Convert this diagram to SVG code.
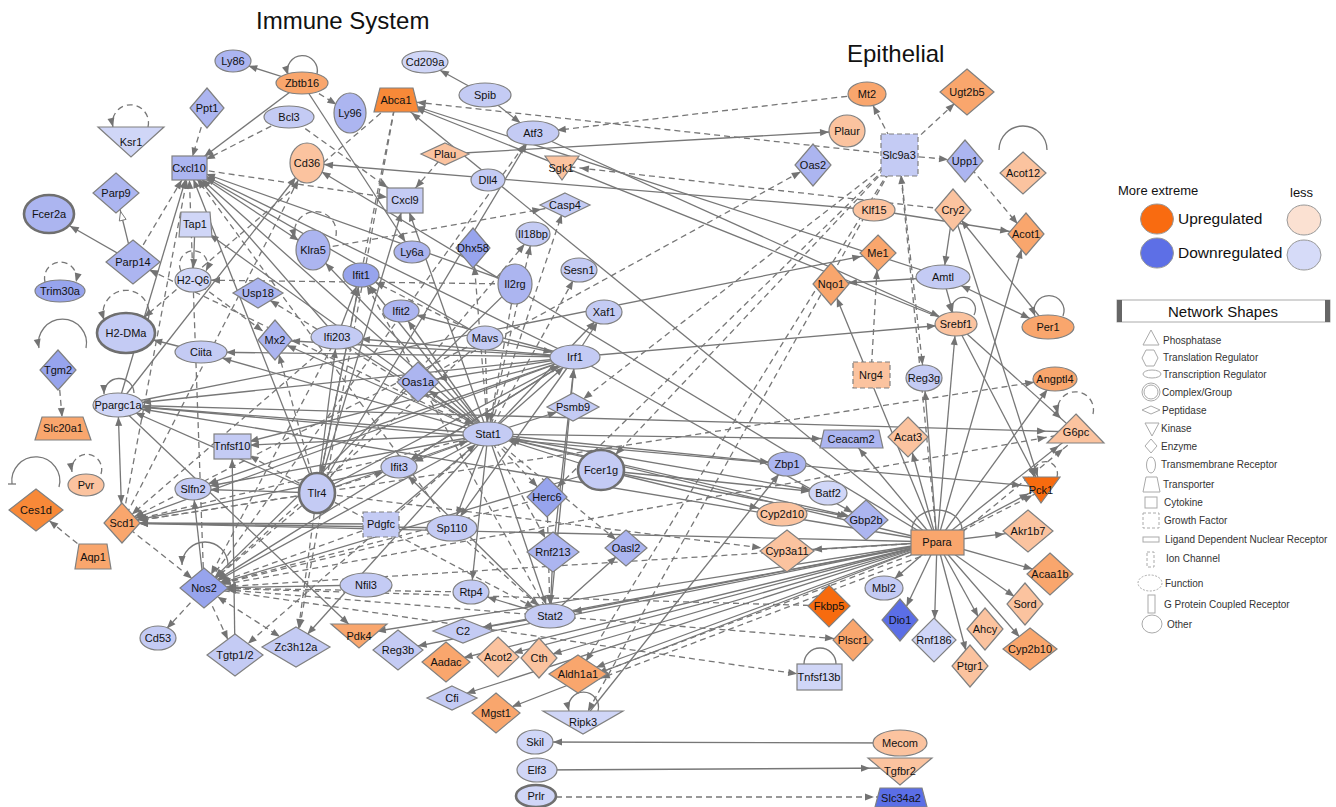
<svg xmlns="http://www.w3.org/2000/svg" width="1336" height="807" viewBox="0 0 1336 807">
<style>
.e line,.e path{stroke:#777;stroke-width:1.3;fill:none}
.d{stroke-dasharray:6 4}
.n{stroke:#808080;stroke-width:1.2}
.cx{stroke:#6f6f6f;stroke-width:2.6}
.gd{stroke-dasharray:5 3}
.t{font-family:"Liberation Sans",Arial,sans-serif;font-size:11px;fill:#111;text-anchor:middle}
.ti{font-family:"Liberation Sans",Arial,sans-serif;font-size:24px;fill:#111}
.lg{stroke:#aaa;fill:#fff;stroke-width:1}
.lt{font-family:"Liberation Sans",Arial,sans-serif;font-size:10px;fill:#333}
.B1{fill:#5b6ee6}.B2{fill:#97a4ed}.B3{fill:#acb5f0}.B4{fill:#c4cbf4}.B5{fill:#d0d6f7}
.O1{fill:#f76b0f}.O2{fill:#f88938}.O3{fill:#f9a66d}.O4{fill:#fbc39f}
</style>
<defs>
<marker id="a0" markerUnits="userSpaceOnUse" markerWidth="10" markerHeight="8" refX="9" refY="3.5" orient="auto" overflow="visible"><path d="M0,0L9,3.5L0,7z" fill="#737373"/></marker>
<marker id="a10" markerUnits="userSpaceOnUse" markerWidth="10" markerHeight="8" refX="19" refY="3.5" orient="auto" overflow="visible"><path d="M0,0L9,3.5L0,7z" fill="#737373"/></marker>
<marker id="a11" markerUnits="userSpaceOnUse" markerWidth="10" markerHeight="8" refX="20" refY="3.5" orient="auto" overflow="visible"><path d="M0,0L9,3.5L0,7z" fill="#737373"/></marker>
<marker id="a12" markerUnits="userSpaceOnUse" markerWidth="10" markerHeight="8" refX="21" refY="3.5" orient="auto" overflow="visible"><path d="M0,0L9,3.5L0,7z" fill="#737373"/></marker>
<marker id="a13" markerUnits="userSpaceOnUse" markerWidth="10" markerHeight="8" refX="22" refY="3.5" orient="auto" overflow="visible"><path d="M0,0L9,3.5L0,7z" fill="#737373"/></marker>
<marker id="a14" markerUnits="userSpaceOnUse" markerWidth="10" markerHeight="8" refX="23" refY="3.5" orient="auto" overflow="visible"><path d="M0,0L9,3.5L0,7z" fill="#737373"/></marker>
<marker id="a15" markerUnits="userSpaceOnUse" markerWidth="10" markerHeight="8" refX="24" refY="3.5" orient="auto" overflow="visible"><path d="M0,0L9,3.5L0,7z" fill="#737373"/></marker>
<marker id="a16" markerUnits="userSpaceOnUse" markerWidth="10" markerHeight="8" refX="25" refY="3.5" orient="auto" overflow="visible"><path d="M0,0L9,3.5L0,7z" fill="#737373"/></marker>
<marker id="a17" markerUnits="userSpaceOnUse" markerWidth="10" markerHeight="8" refX="26" refY="3.5" orient="auto" overflow="visible"><path d="M0,0L9,3.5L0,7z" fill="#737373"/></marker>
<marker id="a18" markerUnits="userSpaceOnUse" markerWidth="10" markerHeight="8" refX="27" refY="3.5" orient="auto" overflow="visible"><path d="M0,0L9,3.5L0,7z" fill="#737373"/></marker>
<marker id="a19" markerUnits="userSpaceOnUse" markerWidth="10" markerHeight="8" refX="28" refY="3.5" orient="auto" overflow="visible"><path d="M0,0L9,3.5L0,7z" fill="#737373"/></marker>
<marker id="a20" markerUnits="userSpaceOnUse" markerWidth="10" markerHeight="8" refX="29" refY="3.5" orient="auto" overflow="visible"><path d="M0,0L9,3.5L0,7z" fill="#737373"/></marker>
<marker id="a21" markerUnits="userSpaceOnUse" markerWidth="10" markerHeight="8" refX="30" refY="3.5" orient="auto" overflow="visible"><path d="M0,0L9,3.5L0,7z" fill="#737373"/></marker>
<marker id="a22" markerUnits="userSpaceOnUse" markerWidth="10" markerHeight="8" refX="31" refY="3.5" orient="auto" overflow="visible"><path d="M0,0L9,3.5L0,7z" fill="#737373"/></marker>
<marker id="a23" markerUnits="userSpaceOnUse" markerWidth="10" markerHeight="8" refX="32" refY="3.5" orient="auto" overflow="visible"><path d="M0,0L9,3.5L0,7z" fill="#737373"/></marker>
<marker id="a24" markerUnits="userSpaceOnUse" markerWidth="10" markerHeight="8" refX="33" refY="3.5" orient="auto" overflow="visible"><path d="M0,0L9,3.5L0,7z" fill="#737373"/></marker>
<marker id="a25" markerUnits="userSpaceOnUse" markerWidth="10" markerHeight="8" refX="34" refY="3.5" orient="auto" overflow="visible"><path d="M0,0L9,3.5L0,7z" fill="#737373"/></marker>
<marker id="a26" markerUnits="userSpaceOnUse" markerWidth="10" markerHeight="8" refX="35" refY="3.5" orient="auto" overflow="visible"><path d="M0,0L9,3.5L0,7z" fill="#737373"/></marker>
<marker id="a27" markerUnits="userSpaceOnUse" markerWidth="10" markerHeight="8" refX="36" refY="3.5" orient="auto" overflow="visible"><path d="M0,0L9,3.5L0,7z" fill="#737373"/></marker>
<marker id="a28" markerUnits="userSpaceOnUse" markerWidth="10" markerHeight="8" refX="37" refY="3.5" orient="auto" overflow="visible"><path d="M0,0L9,3.5L0,7z" fill="#737373"/></marker>
<marker id="a30" markerUnits="userSpaceOnUse" markerWidth="10" markerHeight="8" refX="39" refY="3.5" orient="auto" overflow="visible"><path d="M0,0L9,3.5L0,7z" fill="#737373"/></marker>
<marker id="s12" markerUnits="userSpaceOnUse" markerWidth="10" markerHeight="8" refX="21" refY="3.5" orient="auto-start-reverse" overflow="visible"><path d="M0,0L9,3.5L0,7z" fill="#737373"/></marker>
<marker id="s16" markerUnits="userSpaceOnUse" markerWidth="10" markerHeight="8" refX="25" refY="3.5" orient="auto-start-reverse" overflow="visible"><path d="M0,0L9,3.5L0,7z" fill="#737373"/></marker>
<marker id="s20" markerUnits="userSpaceOnUse" markerWidth="10" markerHeight="8" refX="29" refY="3.5" orient="auto-start-reverse" overflow="visible"><path d="M0,0L9,3.5L0,7z" fill="#737373"/></marker>
<marker id="h19" markerUnits="userSpaceOnUse" markerWidth="10" markerHeight="8" refX="28" refY="3.5" orient="auto" overflow="visible"><path d="M0,0L9,3.5L0,7z" fill="#fff" stroke="#777" stroke-width="0.9"/></marker>
</defs>
<rect width="1336" height="807" fill="#fff"/>
<text x="256" y="29" class="ti">Immune System</text>
<text x="847" y="62" class="ti">Epithelial</text>
<g id="connectors" class="e">
<line x1="302" y1="83" x2="233" y2="61" marker-end="url(#a16)"/>
<line x1="302" y1="83" x2="350" y2="113" class="d" marker-end="url(#a16)"/>
<line x1="302" y1="83" x2="189" y2="168" marker-end="url(#a19)"/>
<line x1="302" y1="83" x2="412" y2="252" marker-end="url(#a12)"/>
<line x1="485" y1="95" x2="425" y2="62" marker-end="url(#a17)"/>
<line x1="485" y1="95" x2="533" y2="133" marker-end="url(#a16)"/>
<line x1="867" y1="94" x2="533" y2="133" class="d" marker-end="url(#a24)"/>
<line x1="899" y1="155" x2="867" y2="94" class="d" marker-end="url(#a13)"/>
<line x1="899" y1="155" x2="967" y2="92" class="d" marker-end="url(#a17)"/>
<line x1="899" y1="155" x2="965" y2="161" class="d" marker-end="url(#a17)"/>
<line x1="965" y1="161" x2="1026" y2="234" class="d" marker-end="url(#a13)"/>
<line x1="445" y1="154" x2="847" y2="131" marker-end="url(#a18)"/>
<line x1="953" y1="210" x2="562" y2="166" class="d" marker-end="url(#a18)"/>
<line x1="874" y1="210" x2="307" y2="163" marker-end="url(#a17)"/>
<line x1="874" y1="210" x2="1026" y2="234" marker-end="url(#a17)"/>
<line x1="953" y1="210" x2="943" y2="277" marker-end="url(#a12)"/>
<line x1="953" y1="210" x2="1041" y2="487" marker-end="url(#a11)"/>
<line x1="1048" y1="327" x2="953" y2="210" marker-end="url(#a13)"/>
<line x1="943" y1="277" x2="1048" y2="327" marker-start="url(#s20)" marker-end="url(#a20)"/>
<line x1="937" y1="542" x2="1026" y2="234" marker-end="url(#a16)"/>
<line x1="943" y1="277" x2="956" y2="324" marker-end="url(#a12)"/>
<line x1="899" y1="155" x2="924" y2="378" class="d" marker-end="url(#a13)"/>
<line x1="871" y1="375" x2="878" y2="253" class="d" marker-end="url(#a17)"/>
<line x1="943" y1="277" x2="831" y2="284" marker-end="url(#a17)"/>
<line x1="118" y1="405" x2="878" y2="253" marker-end="url(#a17)"/>
<line x1="118" y1="405" x2="1076" y2="432" marker-end="url(#a30)"/>
<line x1="118" y1="405" x2="1041" y2="487" marker-end="url(#a20)"/>
<line x1="204" y1="588" x2="1076" y2="432" class="d" marker-end="url(#a30)"/>
<line x1="122" y1="523" x2="1055" y2="379" class="d" marker-end="url(#a21)"/>
<line x1="533" y1="133" x2="956" y2="324" marker-end="url(#a18)"/>
<line x1="956" y1="324" x2="396" y2="100" marker-end="url(#a21)"/>
<line x1="943" y1="277" x2="396" y2="100" marker-end="url(#a21)"/>
<line x1="207" y1="108" x2="189" y2="168" class="d" marker-end="url(#a12)"/>
<line x1="289" y1="117" x2="189" y2="168" class="d" marker-end="url(#a19)"/>
<line x1="289" y1="117" x2="405" y2="200" class="d" marker-end="url(#a21)"/>
<line x1="189" y1="168" x2="405" y2="200" class="d" marker-end="url(#a18)"/>
<line x1="133" y1="262" x2="116" y2="193" marker-end="url(#h19)"/>
<line x1="133" y1="262" x2="49" y2="214" marker-end="url(#a24)"/>
<line x1="133" y1="262" x2="189" y2="168" class="d" marker-end="url(#a14)"/>
<line x1="195" y1="224" x2="193" y2="280" marker-end="url(#a12)"/>
<line x1="201" y1="352" x2="126" y2="333" marker-end="url(#a28)"/>
<line x1="515" y1="284" x2="193" y2="280" class="d" marker-end="url(#a18)"/>
<line x1="118" y1="405" x2="189" y2="168" marker-end="url(#a12)"/>
<line x1="58" y1="370" x2="63" y2="428" class="d" marker-end="url(#a11)"/>
<line x1="118" y1="405" x2="122" y2="523" marker-start="url(#s12)" marker-end="url(#a19)"/>
<line x1="488" y1="434" x2="118" y2="405" marker-end="url(#a24)"/>
<line x1="937" y1="542" x2="118" y2="405" marker-end="url(#a24)"/>
<line x1="575" y1="357" x2="118" y2="405" marker-end="url(#a24)"/>
<line x1="317" y1="493" x2="118" y2="405" marker-end="url(#a19)"/>
<line x1="488" y1="434" x2="189" y2="168" marker-end="url(#a17)"/>
<line x1="488" y1="434" x2="405" y2="200" marker-end="url(#a13)"/>
<line x1="488" y1="434" x2="361" y2="275" marker-end="url(#a13)"/>
<line x1="488" y1="434" x2="401" y2="311" marker-end="url(#a12)"/>
<line x1="488" y1="434" x2="399" y2="467" marker-end="url(#a16)"/>
<line x1="488" y1="434" x2="575" y2="357" marker-end="url(#a15)"/>
<line x1="488" y1="434" x2="573" y2="407" marker-end="url(#a17)"/>
<line x1="488" y1="434" x2="418" y2="382" marker-end="url(#a14)"/>
<line x1="488" y1="434" x2="275" y2="340" marker-end="url(#a13)"/>
<line x1="488" y1="434" x2="201" y2="352" marker-end="url(#a22)"/>
<line x1="488" y1="434" x2="232" y2="446" marker-end="url(#a18)"/>
<line x1="488" y1="434" x2="193" y2="489" marker-end="url(#a17)"/>
<line x1="488" y1="434" x2="204" y2="588" marker-end="url(#a16)"/>
<line x1="488" y1="434" x2="787" y2="464" marker-end="url(#a18)"/>
<line x1="488" y1="434" x2="828" y2="493" marker-end="url(#a18)"/>
<line x1="488" y1="434" x2="866" y2="520" marker-end="url(#a17)"/>
<line x1="488" y1="434" x2="851" y2="439" marker-end="url(#a30)"/>
<line x1="488" y1="434" x2="547" y2="497" class="d" marker-end="url(#a14)"/>
<line x1="488" y1="434" x2="553" y2="552" class="d" marker-end="url(#a16)"/>
<line x1="488" y1="434" x2="626" y2="548" class="d" marker-end="url(#a13)"/>
<line x1="488" y1="434" x2="452" y2="528" marker-end="url(#a13)"/>
<line x1="488" y1="434" x2="471" y2="592" marker-end="url(#a12)"/>
<line x1="488" y1="434" x2="550" y2="616" marker-end="url(#a12)"/>
<line x1="488" y1="434" x2="604" y2="312" marker-end="url(#a13)"/>
<line x1="488" y1="434" x2="195" y2="224" marker-end="url(#a18)"/>
<line x1="488" y1="434" x2="258" y2="293" class="d" marker-end="url(#a14)"/>
<line x1="488" y1="434" x2="473" y2="248" class="d" marker-end="url(#a18)"/>
<line x1="488" y1="434" x2="533" y2="234" class="d" marker-end="url(#a12)"/>
<line x1="488" y1="434" x2="565" y2="205" class="d" marker-end="url(#a10)"/>
<line x1="488" y1="434" x2="579" y2="270" class="d" marker-end="url(#a12)"/>
<line x1="488" y1="434" x2="133" y2="262" class="d" marker-end="url(#a18)"/>
<line x1="488" y1="434" x2="313" y2="250" marker-end="url(#a18)"/>
<line x1="488" y1="434" x2="235" y2="655" class="d" marker-end="url(#a17)"/>
<line x1="488" y1="434" x2="296" y2="647" marker-end="url(#a17)"/>
<line x1="488" y1="434" x2="122" y2="523" class="d" marker-end="url(#a15)"/>
<line x1="396" y1="100" x2="126" y2="333" class="d" marker-end="url(#a24)"/>
<line x1="515" y1="284" x2="488" y2="434" class="d" marker-end="url(#a12)"/>
<line x1="485" y1="338" x2="488" y2="434" class="d" marker-end="url(#a12)"/>
<line x1="317" y1="493" x2="488" y2="434" marker-end="url(#a21)"/>
<line x1="601" y1="470" x2="488" y2="434" marker-end="url(#a21)"/>
<line x1="337" y1="337" x2="488" y2="434" marker-end="url(#a17)"/>
<line x1="937" y1="542" x2="488" y2="434" marker-end="url(#a23)"/>
<line x1="381" y1="524" x2="488" y2="434" marker-end="url(#a16)"/>
<line x1="550" y1="616" x2="471" y2="592" marker-end="url(#a17)"/>
<line x1="550" y1="616" x2="463" y2="631" marker-end="url(#a20)"/>
<line x1="550" y1="616" x2="853" y2="640" class="d" marker-end="url(#a19)"/>
<line x1="550" y1="616" x2="626" y2="548" marker-end="url(#a13)"/>
<line x1="550" y1="616" x2="575" y2="357" marker-end="url(#a12)"/>
<line x1="550" y1="616" x2="204" y2="588" class="d" marker-end="url(#a23)"/>
<line x1="452" y1="528" x2="550" y2="616" class="d" marker-end="url(#a15)"/>
<line x1="547" y1="497" x2="550" y2="616" class="d" marker-end="url(#a12)"/>
<line x1="553" y1="552" x2="550" y2="616" marker-end="url(#a12)"/>
<line x1="317" y1="493" x2="550" y2="616" class="d" marker-end="url(#a18)"/>
<line x1="550" y1="616" x2="399" y2="467" marker-end="url(#a13)"/>
<line x1="550" y1="616" x2="361" y2="275" class="d" marker-end="url(#a12)"/>
<line x1="829" y1="606" x2="204" y2="588" class="d" marker-end="url(#a23)"/>
<line x1="204" y1="588" x2="819" y2="677" class="d" marker-end="url(#a22)"/>
<line x1="937" y1="542" x2="1028" y2="531" marker-end="url(#a24)"/>
<line x1="937" y1="542" x2="1050" y2="574" marker-end="url(#a18)"/>
<line x1="937" y1="542" x2="1025" y2="604" marker-end="url(#a13)"/>
<line x1="937" y1="542" x2="1030" y2="649" marker-end="url(#a16)"/>
<line x1="937" y1="542" x2="985" y2="629" marker-end="url(#a14)"/>
<line x1="937" y1="542" x2="970" y2="666" marker-end="url(#a16)"/>
<line x1="937" y1="542" x2="934" y2="640" marker-end="url(#a21)"/>
<line x1="937" y1="542" x2="900" y2="620" marker-end="url(#a15)"/>
<line x1="937" y1="542" x2="884" y2="588" marker-end="url(#a14)"/>
<line x1="937" y1="542" x2="1041" y2="487" marker-end="url(#a14)"/>
<line x1="952" y1="536" x2="1045" y2="489" class="d" marker-end="url(#a14)"/>
<line x1="937" y1="542" x2="1076" y2="432" marker-end="url(#a22)"/>
<line x1="955" y1="538" x2="1080" y2="435" class="d" marker-end="url(#a22)"/>
<line x1="937" y1="542" x2="1055" y2="379" marker-end="url(#a13)"/>
<line x1="937" y1="542" x2="956" y2="324" marker-end="url(#a12)"/>
<line x1="937" y1="542" x2="924" y2="378" marker-end="url(#a13)"/>
<line x1="937" y1="542" x2="908" y2="437" marker-end="url(#a16)"/>
<line x1="937" y1="542" x2="787" y2="551" marker-end="url(#a26)"/>
<line x1="937" y1="542" x2="578" y2="674" marker-end="url(#a19)"/>
<line x1="930" y1="548" x2="580" y2="680" class="d" marker-end="url(#a19)"/>
<line x1="930" y1="553" x2="583" y2="685" class="d" marker-end="url(#a19)"/>
<line x1="937" y1="542" x2="539" y2="658" marker-end="url(#a14)"/>
<line x1="937" y1="542" x2="498" y2="657" marker-end="url(#a16)"/>
<line x1="937" y1="542" x2="446" y2="662" marker-end="url(#a18)"/>
<line x1="937" y1="542" x2="463" y2="631" marker-end="url(#a20)"/>
<line x1="937" y1="542" x2="452" y2="698" marker-end="url(#a15)"/>
<line x1="937" y1="542" x2="496" y2="713" marker-end="url(#a17)"/>
<line x1="937" y1="542" x2="398" y2="650" marker-end="url(#a20)"/>
<line x1="937" y1="542" x2="359" y2="634" marker-end="url(#a18)"/>
<line x1="937" y1="542" x2="204" y2="588" class="d" marker-end="url(#a23)"/>
<line x1="937" y1="542" x2="122" y2="523" marker-end="url(#a17)"/>
<line x1="937" y1="542" x2="396" y2="100" marker-end="url(#a20)"/>
<line x1="937" y1="542" x2="307" y2="163" marker-end="url(#a17)"/>
<line x1="937" y1="542" x2="899" y2="155" class="d" marker-end="url(#a20)"/>
<line x1="937" y1="542" x2="550" y2="616" marker-end="url(#a23)"/>
<line x1="937" y1="542" x2="831" y2="284" marker-end="url(#a15)"/>
<line x1="937" y1="542" x2="851" y2="439" marker-end="url(#a12)"/>
<line x1="396" y1="100" x2="317" y2="493" class="d" marker-end="url(#a19)"/>
<line x1="396" y1="100" x2="296" y2="647" class="d" marker-end="url(#a19)"/>
<line x1="317" y1="493" x2="189" y2="168" marker-end="url(#a12)"/>
<line x1="317" y1="493" x2="204" y2="588" class="d" marker-end="url(#a15)"/>
<line x1="317" y1="493" x2="122" y2="523" class="d" marker-end="url(#a17)"/>
<line x1="317" y1="493" x2="296" y2="647" class="d" marker-end="url(#a19)"/>
<line x1="317" y1="493" x2="399" y2="467" class="d" marker-end="url(#a16)"/>
<line x1="317" y1="493" x2="575" y2="357" marker-end="url(#a18)"/>
<line x1="317" y1="493" x2="361" y2="275" marker-end="url(#a12)"/>
<line x1="317" y1="493" x2="337" y2="337" marker-end="url(#a12)"/>
<line x1="317" y1="493" x2="193" y2="489" marker-end="url(#a17)"/>
<line x1="317" y1="493" x2="405" y2="200" marker-end="url(#a13)"/>
<line x1="317" y1="493" x2="232" y2="446" class="d" marker-end="url(#a20)"/>
<line x1="317" y1="493" x2="275" y2="340" class="d" marker-end="url(#a15)"/>
<line x1="317" y1="493" x2="533" y2="234" class="d" marker-end="url(#a13)"/>
<line x1="317" y1="493" x2="533" y2="133" marker-end="url(#a12)"/>
<line x1="317" y1="493" x2="787" y2="551" class="d" marker-end="url(#a26)"/>
<line x1="575" y1="357" x2="189" y2="168" marker-end="url(#a19)"/>
<line x1="337" y1="337" x2="189" y2="168" marker-end="url(#a15)"/>
<line x1="485" y1="338" x2="189" y2="168" marker-end="url(#a19)"/>
<line x1="204" y1="588" x2="189" y2="168" class="d" marker-end="url(#a12)"/>
<line x1="189" y1="168" x2="313" y2="250" marker-end="url(#a17)"/>
<line x1="515" y1="284" x2="189" y2="168" marker-end="url(#a18)"/>
<line x1="122" y1="523" x2="189" y2="168" class="d" marker-end="url(#a12)"/>
<line x1="452" y1="528" x2="189" y2="168" class="d" marker-end="url(#a14)"/>
<line x1="204" y1="588" x2="158" y2="638" class="d" marker-end="url(#a13)"/>
<line x1="204" y1="588" x2="235" y2="655" class="d" marker-end="url(#a17)"/>
<line x1="204" y1="588" x2="296" y2="647" class="d" marker-start="url(#s16)" marker-end="url(#a19)"/>
<line x1="366" y1="585" x2="204" y2="588" marker-end="url(#a23)"/>
<line x1="337" y1="337" x2="204" y2="588" class="d" marker-end="url(#a15)"/>
<line x1="575" y1="357" x2="204" y2="588" marker-end="url(#a16)"/>
<line x1="452" y1="528" x2="204" y2="588" class="d" marker-end="url(#a18)"/>
<line x1="547" y1="497" x2="204" y2="588" class="d" marker-end="url(#a18)"/>
<line x1="381" y1="524" x2="204" y2="588" class="d" marker-end="url(#a17)"/>
<line x1="471" y1="592" x2="204" y2="588" class="d" marker-end="url(#a23)"/>
<line x1="515" y1="284" x2="204" y2="588" marker-end="url(#a15)"/>
<line x1="485" y1="338" x2="204" y2="588" class="d" marker-end="url(#a15)"/>
<line x1="601" y1="470" x2="204" y2="588" marker-end="url(#a18)"/>
<line x1="93" y1="556" x2="36" y2="510" class="d" marker-end="url(#a17)"/>
<line x1="122" y1="523" x2="204" y2="588" class="d" marker-end="url(#a15)"/>
<line x1="575" y1="357" x2="122" y2="523" marker-end="url(#a14)"/>
<line x1="452" y1="528" x2="122" y2="523" marker-end="url(#a17)"/>
<line x1="381" y1="524" x2="122" y2="523" marker-end="url(#a17)"/>
<line x1="399" y1="467" x2="122" y2="523" marker-end="url(#a16)"/>
<line x1="337" y1="337" x2="122" y2="523" class="d" marker-end="url(#a13)"/>
<line x1="485" y1="338" x2="122" y2="523" class="d" marker-end="url(#a14)"/>
<line x1="575" y1="357" x2="232" y2="446" marker-end="url(#a18)"/>
<line x1="575" y1="357" x2="193" y2="489" marker-end="url(#a16)"/>
<line x1="553" y1="552" x2="575" y2="357" marker-end="url(#a12)"/>
<line x1="575" y1="357" x2="604" y2="312" marker-end="url(#a12)"/>
<line x1="575" y1="357" x2="418" y2="382" marker-end="url(#a20)"/>
<line x1="575" y1="357" x2="337" y2="337" marker-end="url(#a24)"/>
<line x1="575" y1="357" x2="201" y2="352" marker-end="url(#a25)"/>
<line x1="575" y1="357" x2="275" y2="340" marker-end="url(#a16)"/>
<line x1="575" y1="357" x2="401" y2="311" marker-end="url(#a16)"/>
<line x1="575" y1="357" x2="399" y2="467" marker-end="url(#a13)"/>
<line x1="575" y1="357" x2="866" y2="520" marker-end="url(#a15)"/>
<line x1="575" y1="357" x2="452" y2="528" marker-end="url(#a14)"/>
<line x1="575" y1="357" x2="956" y2="324" marker-end="url(#a20)"/>
<line x1="313" y1="250" x2="565" y2="205" class="d" marker-end="url(#a24)"/>
<line x1="418" y1="382" x2="813" y2="165" class="d" marker-end="url(#a14)"/>
<line x1="899" y1="155" x2="573" y2="407" class="d" marker-end="url(#a13)"/>
<line x1="899" y1="155" x2="547" y2="497" class="d" marker-end="url(#a14)"/>
<line x1="899" y1="155" x2="601" y2="470" class="d" marker-end="url(#a21)"/>
<line x1="899" y1="155" x2="583" y2="720" class="d" marker-end="url(#a10)"/>
<line x1="899" y1="155" x2="578" y2="674" class="d" marker-end="url(#a15)"/>
<line x1="204" y1="588" x2="533" y2="133" class="d" marker-end="url(#a14)"/>
<line x1="583" y1="720" x2="787" y2="464" marker-end="url(#a13)"/>
<line x1="601" y1="470" x2="782" y2="514" marker-end="url(#a24)"/>
<line x1="601" y1="470" x2="866" y2="520" marker-end="url(#a20)"/>
<line x1="601" y1="470" x2="828" y2="493" marker-end="url(#a18)"/>
<line x1="956" y1="324" x2="1041" y2="487" marker-end="url(#a11)"/>
<line x1="956" y1="324" x2="1076" y2="432" marker-end="url(#a20)"/>
<line x1="118" y1="405" x2="307" y2="163" marker-end="url(#a18)"/>
<line x1="122" y1="523" x2="307" y2="163" class="d" marker-end="url(#a19)"/>
<line x1="445" y1="154" x2="405" y2="200" class="d" marker-end="url(#a16)"/>
<line x1="193" y1="280" x2="275" y2="340" class="d" marker-end="url(#a15)"/>
<line x1="235" y1="655" x2="232" y2="446" marker-end="url(#a13)"/>
<line x1="204" y1="588" x2="193" y2="489" marker-end="url(#a11)"/>
<line x1="118" y1="405" x2="359" y2="634" marker-end="url(#a14)"/>
<line x1="337" y1="337" x2="361" y2="275" marker-end="url(#a12)"/>
<line x1="485" y1="338" x2="361" y2="275" class="d" marker-end="url(#a16)"/>
<line x1="485" y1="338" x2="575" y2="357" marker-end="url(#a23)"/>
<line x1="899" y1="155" x2="396" y2="100" class="d" marker-end="url(#a21)"/>
<line x1="900" y1="743" x2="535" y2="742" marker-end="url(#a18)"/>
<line x1="537" y1="770" x2="900" y2="768" marker-end="url(#a30)"/>
<line x1="536" y1="797" x2="901" y2="797" class="d" marker-end="url(#a27)"/>
<path d="M317,74 A15,15 0 1 0 288,75" marker-end="url(#a0)"/>
<path d="M148,127 A18,18 0 1 0 113,127" class="d" marker-end="url(#a0)"/>
<path d="M45,282 A16,16 0 1 1 76,282" class="d" marker-end="url(#a0)"/>
<path d="M181,271 A14,14 0 1 1 206,271" class="d" marker-end="url(#a0)"/>
<path d="M148,320 A23,23 0 1 0 104,320" class="d" marker-end="url(#a0)"/>
<path d="M86,348 A24,24 0 1 0 39,348" marker-end="url(#a0)"/>
<path d="M134,393 A15,15 0 1 0 104,394" marker-end="url(#a0)"/>
<path d="M101,474 A15,15 0 1 0 72,472" class="d" marker-end="url(#a0)"/>
<path d="M59,487 A24,24 0 1 0 12,484"/>
<path d="M8,484 L16,484"/>
<path d="M336,236 A21,21 0 1 0 295,238" class="d" marker-end="url(#a0)"/>
<path d="M228,565 A23,23 0 1 0 182,565" marker-end="url(#a0)"/>
<path d="M1047,150 A24,24 0 1 0 999,150"/>
<path d="M974,315 A12,12 0 1 0 952,313" marker-end="url(#a0)"/>
<path d="M1063,316 A15,15 0 1 0 1035,316" marker-end="url(#a0)"/>
<path d="M1093,414 A18,18 0 1 0 1058,414" class="d" marker-end="url(#a0)"/>
<path d="M1057,477 A12,12 0 1 0 1034,477" class="d" marker-end="url(#a0)"/>
<path d="M962,530 A25,20 0 0 0 912,530"/>
<path d="M598,711 A15,15 0 1 0 569,711" marker-end="url(#a0)"/>
<path d="M836,664 A16,16 0 1 0 804,664"/>
</g>
<g id="n-Ly86"><ellipse cx="233" cy="61" rx="18" ry="11" class="n B3"/><text x="233" y="65" class="t">Ly86</text></g>
<g id="n-Zbtb16"><ellipse cx="302" cy="83" rx="26" ry="11" class="n O3"/><text x="302" y="87" class="t">Zbtb16</text></g>
<g id="n-Cd209a"><ellipse cx="425" cy="62" rx="23" ry="11" class="n B5"/><text x="425" y="66" class="t">Cd209a</text></g>
<g id="n-Ly96"><ellipse cx="350" cy="113" rx="16" ry="20" class="n B3"/><text x="350" y="117" class="t">Ly96</text></g>
<g id="n-Abca1"><polygon points="380,88 413,88 419,112 374,112" class="n O2"/><text x="396" y="104" class="t">Abca1</text></g>
<g id="n-Spib"><ellipse cx="485" cy="95" rx="26" ry="12" class="n B4"/><text x="485" y="99" class="t">Spib</text></g>
<g id="n-Atf3"><ellipse cx="533" cy="133" rx="26" ry="12" class="n B4"/><text x="533" y="137" class="t">Atf3</text></g>
<g id="n-Mt2"><ellipse cx="867" cy="94" rx="19" ry="12" class="n O3"/><text x="867" y="98" class="t">Mt2</text></g>
<g id="n-Ugt2b5"><polygon points="967,69 994,92 967,115 940,92" class="n O3"/><text x="967" y="96" class="t">Ugt2b5</text></g>
<g id="n-Ppt1"><polygon points="207,88 224,108 207,128 190,108" class="n B3"/><text x="207" y="112" class="t">Ppt1</text></g>
<g id="n-Bcl3"><ellipse cx="289" cy="117" rx="25" ry="11" class="n B4"/><text x="289" y="121" class="t">Bcl3</text></g>
<g id="n-Ksr1"><polygon points="98,127 164,127 131,157" class="n B5"/><text x="131" y="146" class="t">Ksr1</text></g>
<g id="n-Plau"><polygon points="445,143 469,154 445,165 421,154" class="n O4"/><text x="445" y="158" class="t">Plau</text></g>
<g id="n-Sgk1"><polygon points="545,156 579,156 562,180" class="n O4"/><text x="561" y="172" class="t">Sgk1</text></g>
<g id="n-Plaur"><ellipse cx="847" cy="131" rx="18" ry="16" class="n O4"/><text x="847" y="135" class="t">Plaur</text></g>
<g id="n-Slc9a3"><rect x="881" y="134" width="37" height="42" class="n gd B4"/><text x="899" y="159" class="t">Slc9a3</text></g>
<g id="n-Upp1"><polygon points="965,140 983,161 965,182 947,161" class="n B3"/><text x="965" y="165" class="t">Upp1</text></g>
<g id="n-Acot12"><polygon points="1023,152 1046,173 1023,194 1000,173" class="n O4"/><text x="1023" y="177" class="t">Acot12</text></g>
<g id="n-Cxcl10"><rect x="172" y="156" width="35" height="24" class="n B3"/><text x="189" y="172" class="t">Cxcl10</text></g>
<g id="n-Cd36"><ellipse cx="307" cy="163" rx="17" ry="20" class="n O4"/><text x="307" y="167" class="t">Cd36</text></g>
<g id="n-Dll4"><ellipse cx="488" cy="180" rx="17" ry="11" class="n B4"/><text x="488" y="184" class="t">Dll4</text></g>
<g id="n-Oas2"><polygon points="813,144 831,165 813,186 795,165" class="n B3"/><text x="813" y="169" class="t">Oas2</text></g>
<g id="n-Klf15"><ellipse cx="874" cy="210" rx="21" ry="11" class="n O4"/><text x="874" y="214" class="t">Klf15</text></g>
<g id="n-Cry2"><polygon points="953,189 971,210 953,231 935,210" class="n O4"/><text x="953" y="214" class="t">Cry2</text></g>
<g id="n-Acot1"><polygon points="1026,213 1044,234 1026,255 1008,234" class="n O3"/><text x="1026" y="238" class="t">Acot1</text></g>
<g id="n-Casp4"><polygon points="565,193 590,205 565,217 540,205" class="n B4"/><text x="565" y="209" class="t">Casp4</text></g>
<g id="n-Cxcl9"><rect x="387" y="188" width="36" height="25" class="n B4"/><text x="405" y="204" class="t">Cxcl9</text></g>
<g id="n-Parp9"><polygon points="116,173 139,193 116,213 93,193" class="n B3"/><text x="116" y="197" class="t">Parp9</text></g>
<g id="n-Fcer2a"><ellipse cx="49" cy="214" rx="25" ry="19" class="n cx B3"/><text x="49" y="218" class="t">Fcer2a</text></g>
<g id="n-Tap1"><polygon points="181,212 210,212 212,237 179,237" class="n B5"/><text x="195" y="228" class="t">Tap1</text></g>
<g id="n-Klra5"><ellipse cx="313" cy="250" rx="17" ry="20" class="n B3"/><text x="313" y="254" class="t">Klra5</text></g>
<g id="n-Ly6a"><ellipse cx="412" cy="252" rx="18" ry="11" class="n B3"/><text x="412" y="256" class="t">Ly6a</text></g>
<g id="n-Dhx58"><polygon points="473,228 490,248 473,268 456,248" class="n B2"/><text x="473" y="252" class="t">Dhx58</text></g>
<g id="n-Il18bp"><ellipse cx="533" cy="234" rx="17" ry="12" class="n B4"/><text x="533" y="238" class="t">Il18bp</text></g>
<g id="n-Me1"><polygon points="878,235 896,253 878,271 860,253" class="n O3"/><text x="878" y="257" class="t">Me1</text></g>
<g id="n-Parp14"><polygon points="133,240 160,262 133,284 106,262" class="n B3"/><text x="133" y="266" class="t">Parp14</text></g>
<g id="n-Trim30a"><ellipse cx="60" cy="291" rx="25" ry="11" class="n B2"/><text x="60" y="295" class="t">Trim30a</text></g>
<g id="n-H2-Q6"><ellipse cx="193" cy="280" rx="18" ry="12" class="n B5"/><text x="193" y="284" class="t">H2-Q6</text></g>
<g id="n-Usp18"><polygon points="258,278 283,293 258,308 233,293" class="n B3"/><text x="258" y="297" class="t">Usp18</text></g>
<g id="n-Ifit1"><ellipse cx="361" cy="275" rx="18" ry="12" class="n B2"/><text x="361" y="279" class="t">Ifit1</text></g>
<g id="n-Il2rg"><ellipse cx="515" cy="284" rx="17" ry="20" class="n B3"/><text x="515" y="288" class="t">Il2rg</text></g>
<g id="n-Sesn1"><ellipse cx="579" cy="270" rx="18" ry="12" class="n B4"/><text x="579" y="274" class="t">Sesn1</text></g>
<g id="n-Nqo1"><polygon points="831,263 849,284 831,305 813,284" class="n O3"/><text x="831" y="288" class="t">Nqo1</text></g>
<g id="n-Amtl"><ellipse cx="943" cy="277" rx="27" ry="12" class="n B4"/><text x="943" y="281" class="t">Amtl</text></g>
<g id="n-Ifit2"><ellipse cx="401" cy="311" rx="18" ry="11" class="n B3"/><text x="401" y="315" class="t">Ifit2</text></g>
<g id="n-Xaf1"><ellipse cx="604" cy="312" rx="18" ry="12" class="n B4"/><text x="604" y="316" class="t">Xaf1</text></g>
<g id="n-Srebf1"><ellipse cx="956" cy="324" rx="21" ry="12" class="n O4"/><text x="956" y="328" class="t">Srebf1</text></g>
<g id="n-Per1"><ellipse cx="1048" cy="327" rx="26" ry="12" class="n O3"/><text x="1048" y="331" class="t">Per1</text></g>
<g id="n-H2-DMa"><ellipse cx="126" cy="333" rx="29" ry="20" class="n cx B4"/><text x="126" y="337" class="t">H2-DMa</text></g>
<g id="n-Ciita"><ellipse cx="201" cy="352" rx="26" ry="11" class="n B4"/><text x="201" y="356" class="t">Ciita</text></g>
<g id="n-Mx2"><polygon points="275,320 292,340 275,360 258,340" class="n B3"/><text x="275" y="344" class="t">Mx2</text></g>
<g id="n-Ifi203"><ellipse cx="337" cy="337" rx="26" ry="12" class="n B4"/><text x="337" y="341" class="t">Ifi203</text></g>
<g id="n-Mavs"><ellipse cx="485" cy="338" rx="18" ry="12" class="n B4"/><text x="485" y="342" class="t">Mavs</text></g>
<g id="n-Irf1"><ellipse cx="575" cy="357" rx="25" ry="12" class="n B4"/><text x="575" y="361" class="t">Irf1</text></g>
<g id="n-Nrg4"><rect x="853" y="362" width="37" height="26" class="n gd O4"/><text x="871" y="379" class="t">Nrg4</text></g>
<g id="n-Reg3g"><ellipse cx="924" cy="378" rx="18" ry="13" class="n B4"/><text x="924" y="382" class="t">Reg3g</text></g>
<g id="n-Angptl4"><ellipse cx="1055" cy="379" rx="22" ry="12" class="n O3"/><text x="1055" y="383" class="t">Angptl4</text></g>
<g id="n-Tgm2"><polygon points="58,350 76,370 58,390 40,370" class="n B2"/><text x="58" y="374" class="t">Tgm2</text></g>
<g id="n-Oas1a"><polygon points="418,362 439,382 418,402 397,382" class="n B3"/><text x="418" y="386" class="t">Oas1a</text></g>
<g id="n-Ppargc1a"><ellipse cx="118" cy="405" rx="25" ry="12" class="n B5"/><text x="118" y="409" class="t">Ppargc1a</text></g>
<g id="n-Psmb9"><polygon points="573,393 599,407 573,421 547,407" class="n B4"/><text x="573" y="411" class="t">Psmb9</text></g>
<g id="n-Slc20a1"><polygon points="42,417 83,417 91,440 35,440" class="n O3"/><text x="63" y="432" class="t">Slc20a1</text></g>
<g id="n-Stat1"><ellipse cx="488" cy="434" rx="25" ry="12" class="n B4"/><text x="488" y="438" class="t">Stat1</text></g>
<g id="n-Ceacam2"><polygon points="824,430 879,430 883,448 820,448" class="n B3"/><text x="851" y="443" class="t">Ceacam2</text></g>
<g id="n-Acat3"><polygon points="908,417 928,437 908,457 888,437" class="n O4"/><text x="908" y="441" class="t">Acat3</text></g>
<g id="n-G6pc"><polygon points="1076,414 1104,443 1047,443" class="n O4"/><text x="1076" y="436" class="t">G6pc</text></g>
<g id="n-Tnfsf10"><rect x="214" y="434" width="37" height="25" class="n B4"/><text x="232" y="450" class="t">Tnfsf10</text></g>
<g id="n-Fcer1g"><ellipse cx="601" cy="470" rx="23" ry="20" class="n cx B4"/><text x="601" y="474" class="t">Fcer1g</text></g>
<g id="n-Zbp1"><ellipse cx="787" cy="464" rx="19" ry="12" class="n B3"/><text x="787" y="468" class="t">Zbp1</text></g>
<g id="n-Pvr"><ellipse cx="86" cy="485" rx="18" ry="11" class="n O4"/><text x="86" y="489" class="t">Pvr</text></g>
<g id="n-Ifit3"><ellipse cx="399" cy="467" rx="18" ry="11" class="n B4"/><text x="399" y="471" class="t">Ifit3</text></g>
<g id="n-Tlr4"><ellipse cx="317" cy="493" rx="18" ry="20" class="n cx B4"/><text x="317" y="497" class="t">Tlr4</text></g>
<g id="n-Slfn2"><ellipse cx="193" cy="489" rx="18" ry="11" class="n B4"/><text x="193" y="493" class="t">Slfn2</text></g>
<g id="n-Ces1d"><polygon points="36,489 63,510 36,531 9,510" class="n O2"/><text x="36" y="514" class="t">Ces1d</text></g>
<g id="n-Batf2"><ellipse cx="828" cy="493" rx="19" ry="12" class="n B5"/><text x="828" y="497" class="t">Batf2</text></g>
<g id="n-Pck1"><polygon points="1023,477 1060,477 1041,503" class="n O1"/><text x="1041" y="494" class="t">Pck1</text></g>
<g id="n-Herc6"><polygon points="547,477 567,497 547,517 527,497" class="n B2"/><text x="547" y="501" class="t">Herc6</text></g>
<g id="n-Scd1"><polygon points="122,503 140,523 122,543 104,523" class="n O3"/><text x="122" y="527" class="t">Scd1</text></g>
<g id="n-Pdgfc"><rect x="363" y="512" width="36" height="25" class="n gd B4"/><text x="381" y="528" class="t">Pdgfc</text></g>
<g id="n-Sp110"><ellipse cx="452" cy="528" rx="25" ry="13" class="n B4"/><text x="452" y="532" class="t">Sp110</text></g>
<g id="n-Cyp2d10"><ellipse cx="782" cy="514" rx="25" ry="12" class="n O4"/><text x="782" y="518" class="t">Cyp2d10</text></g>
<g id="n-Gbp2b"><polygon points="866,500 888,520 866,540 844,520" class="n B3"/><text x="866" y="524" class="t">Gbp2b</text></g>
<g id="n-Akr1b7"><polygon points="1028,510 1053,531 1028,552 1003,531" class="n O4"/><text x="1028" y="535" class="t">Akr1b7</text></g>
<g id="n-Ppara"><rect x="911" y="530" width="53" height="25" class="n O3"/><text x="937" y="546" class="t">Ppara</text></g>
<g id="n-Aqp1"><polygon points="79,544 107,544 111,569 75,569" class="n O3"/><text x="93" y="561" class="t">Aqp1</text></g>
<g id="n-Rnf213"><polygon points="553,532 579,552 553,572 527,552" class="n B3"/><text x="553" y="556" class="t">Rnf213</text></g>
<g id="n-Oasl2"><polygon points="626,530 647,548 626,566 605,548" class="n B3"/><text x="626" y="552" class="t">Oasl2</text></g>
<g id="n-Cyp3a11"><polygon points="787,530 814,551 787,572 760,551" class="n O4"/><text x="787" y="555" class="t">Cyp3a11</text></g>
<g id="n-Nos2"><polygon points="204,568 228,588 204,608 180,588" class="n B2"/><text x="204" y="592" class="t">Nos2</text></g>
<g id="n-Nfil3"><ellipse cx="366" cy="585" rx="26" ry="12" class="n B4"/><text x="366" y="589" class="t">Nfil3</text></g>
<g id="n-Rtp4"><ellipse cx="471" cy="592" rx="18" ry="12" class="n B4"/><text x="471" y="596" class="t">Rtp4</text></g>
<g id="n-Stat2"><ellipse cx="550" cy="616" rx="25" ry="12" class="n B4"/><text x="550" y="620" class="t">Stat2</text></g>
<g id="n-Mbl2"><ellipse cx="884" cy="588" rx="19" ry="12" class="n B4"/><text x="884" y="592" class="t">Mbl2</text></g>
<g id="n-Fkbp5"><polygon points="829,585 850,606 829,627 808,606" class="n O1"/><text x="829" y="610" class="t">Fkbp5</text></g>
<g id="n-Acaa1b"><polygon points="1050,553 1073,574 1050,595 1027,574" class="n O3"/><text x="1050" y="578" class="t">Acaa1b</text></g>
<g id="n-Sord"><polygon points="1025,583 1043,604 1025,625 1007,604" class="n O4"/><text x="1025" y="608" class="t">Sord</text></g>
<g id="n-Dio1"><polygon points="900,599 918,620 900,641 882,620" class="n B1"/><text x="900" y="624" class="t">Dio1</text></g>
<g id="n-Cd53"><ellipse cx="158" cy="638" rx="18" ry="12" class="n B4"/><text x="158" y="642" class="t">Cd53</text></g>
<g id="n-Tgtp1-2"><polygon points="235,634 263,655 235,676 207,655" class="n B4"/><text x="235" y="659" class="t">Tgtp1/2</text></g>
<g id="n-Zc3h12a"><polygon points="296,627 330,647 296,667 262,647" class="n B4"/><text x="296" y="651" class="t">Zc3h12a</text></g>
<g id="n-Pdk4"><polygon points="331,624 387,624 359,648" class="n O3"/><text x="359" y="640" class="t">Pdk4</text></g>
<g id="n-Reg3b"><polygon points="398,630 423,650 398,670 373,650" class="n B4"/><text x="398" y="654" class="t">Reg3b</text></g>
<g id="n-C2"><polygon points="463,619 493,631 463,643 433,631" class="n B4"/><text x="463" y="635" class="t">C2</text></g>
<g id="n-Aadac"><polygon points="446,642 470,662 446,682 422,662" class="n O3"/><text x="446" y="666" class="t">Aadac</text></g>
<g id="n-Acot2"><polygon points="498,637 519,657 498,677 477,657" class="n O4"/><text x="498" y="661" class="t">Acot2</text></g>
<g id="n-Cth"><polygon points="539,638 557,658 539,678 521,658" class="n O4"/><text x="539" y="662" class="t">Cth</text></g>
<g id="n-Aldh1a1"><polygon points="578,655 607,674 578,693 549,674" class="n O3"/><text x="578" y="678" class="t">Aldh1a1</text></g>
<g id="n-Plscr1"><polygon points="853,619 873,640 853,661 833,640" class="n O3"/><text x="853" y="644" class="t">Plscr1</text></g>
<g id="n-Rnf186"><polygon points="934,618 956,640 934,662 912,640" class="n B5"/><text x="934" y="644" class="t">Rnf186</text></g>
<g id="n-Ahcy"><polygon points="985,608 1003,629 985,650 967,629" class="n O4"/><text x="985" y="633" class="t">Ahcy</text></g>
<g id="n-Cyp2b10"><polygon points="1030,628 1057,649 1030,670 1003,649" class="n O3"/><text x="1030" y="653" class="t">Cyp2b10</text></g>
<g id="n-Ptgr1"><polygon points="970,645 988,666 970,687 952,666" class="n O4"/><text x="970" y="670" class="t">Ptgr1</text></g>
<g id="n-Tnfsf13b"><rect x="797" y="664" width="45" height="26" class="n B5"/><text x="819" y="681" class="t">Tnfsf13b</text></g>
<g id="n-Cfi"><polygon points="452,686 477,698 452,710 427,698" class="n B4"/><text x="452" y="702" class="t">Cfi</text></g>
<g id="n-Mgst1"><polygon points="496,693 520,713 496,733 472,713" class="n O3"/><text x="496" y="717" class="t">Mgst1</text></g>
<g id="n-Ripk3"><polygon points="543,711 623,711 583,734" class="n B5"/><text x="583" y="726" class="t">Ripk3</text></g>
<g id="n-Skil"><ellipse cx="535" cy="742" rx="18" ry="12" class="n B5"/><text x="535" y="746" class="t">Skil</text></g>
<g id="n-Mecom"><ellipse cx="900" cy="743" rx="27" ry="13" class="n O4"/><text x="900" y="747" class="t">Mecom</text></g>
<g id="n-Elf3"><ellipse cx="537" cy="770" rx="20" ry="12" class="n B5"/><text x="537" y="774" class="t">Elf3</text></g>
<g id="n-Tgfbr2"><polygon points="868,758 932,758 900,785" class="n O4"/><text x="900" y="775" class="t">Tgfbr2</text></g>
<g id="n-Prlr"><ellipse cx="536" cy="796" rx="20" ry="11" class="n cx B5"/><text x="536" y="800" class="t">Prlr</text></g>
<g id="n-Slc34a2"><polygon points="880,788 922,788 927,807 875,807" class="n B1"/><text x="901" y="802" class="t">Slc34a2</text></g>
<g id="legend-colors">
<text x="1118" y="195" font-family="Liberation Sans, Arial, sans-serif" font-size="13" fill="#111">More extreme</text>
<text x="1290" y="197" font-family="Liberation Sans, Arial, sans-serif" font-size="13" fill="#111">less</text>
<ellipse cx="1157" cy="219" rx="16.5" ry="15" fill="#f96b10" stroke="#999"/>
<text x="1178" y="224" font-family="Liberation Sans, Arial, sans-serif" font-size="15.5" fill="#111">Upregulated</text>
<ellipse cx="1304" cy="220" rx="17" ry="15" fill="#fbe1d2" stroke="#999"/>
<ellipse cx="1157" cy="253" rx="16.5" ry="15" fill="#5d6fe6" stroke="#999"/>
<text x="1178" y="258" font-family="Liberation Sans, Arial, sans-serif" font-size="15.5" fill="#111">Downregulated</text>
<ellipse cx="1304" cy="255" rx="17" ry="15" fill="#d6dbf8" stroke="#999"/>
</g>
<g id="legend-shapes">
<rect x="1117" y="300" width="213" height="22" fill="#fff" stroke="#aaa"/>
<rect x="1117" y="300" width="5" height="22" fill="#666"/>
<rect x="1325" y="300" width="5" height="22" fill="#666"/>
<text x="1223" y="317" text-anchor="middle" font-family="Liberation Sans, Arial, sans-serif" font-size="15" fill="#111">Network Shapes</text>
<polygon points="1151,330 1159,345 1143,345" class="lg"/>
<text x="1163" y="344" class="lt">Phosphatase</text>
<polygon points="1146,350 1154,350 1158,358 1154,366 1146,366 1142,358" class="lg"/>
<text x="1163" y="361" class="lt">Translation Regulator</text>
<ellipse cx="1152" cy="374" rx="9" ry="4" class="lg"/>
<text x="1163" y="378" class="lt">Transcription Regulator</text>
<circle cx="1151" cy="392" r="9" class="lg"/><circle cx="1151" cy="392" r="7" class="lg"/>
<text x="1162" y="396" class="lt">Complex/Group</text>
<polygon points="1151,406 1160,410 1151,414 1142,410" class="lg"/>
<text x="1162" y="414" class="lt">Peptidase</text>
<polygon points="1145,423 1159,423 1152,436" class="lg"/>
<text x="1161" y="432" class="lt">Kinase</text>
<polygon points="1151,439 1157,446 1151,453 1145,446" class="lg"/>
<text x="1161" y="450" class="lt">Enzyme</text>
<ellipse cx="1151" cy="465" rx="4.5" ry="8" class="lg"/>
<text x="1161" y="468" class="lt">Transmembrane Receptor</text>
<polygon points="1146,477 1157,477 1160,492 1143,492" class="lg"/>
<text x="1163" y="488" class="lt">Transporter</text>
<rect x="1145" y="497" width="12" height="11" class="lg"/>
<text x="1164" y="506" class="lt">Cytokine</text>
<rect x="1143" y="513" width="16" height="15" class="lg" stroke-dasharray="3 2"/>
<text x="1164" y="524" class="lt">Growth Factor</text>
<rect x="1143" y="537" width="16" height="5" class="lg"/>
<text x="1165" y="543" class="lt">Ligand Dependent Nuclear Receptor</text>
<rect x="1147" y="552" width="7" height="15" class="lg" stroke-dasharray="3 2"/>
<text x="1166" y="562" class="lt">Ion Channel</text>
<ellipse cx="1150" cy="583" rx="12" ry="8" class="lg" stroke-dasharray="2 1.5"/>
<text x="1165" y="587" class="lt">Function</text>
<rect x="1148" y="595" width="7" height="18" class="lg"/>
<text x="1164" y="608" class="lt">G Protein Coupled Receptor</text>
<ellipse cx="1152" cy="624" rx="10" ry="9" class="lg"/>
<text x="1167" y="628" class="lt">Other</text>
</g>
</svg>
